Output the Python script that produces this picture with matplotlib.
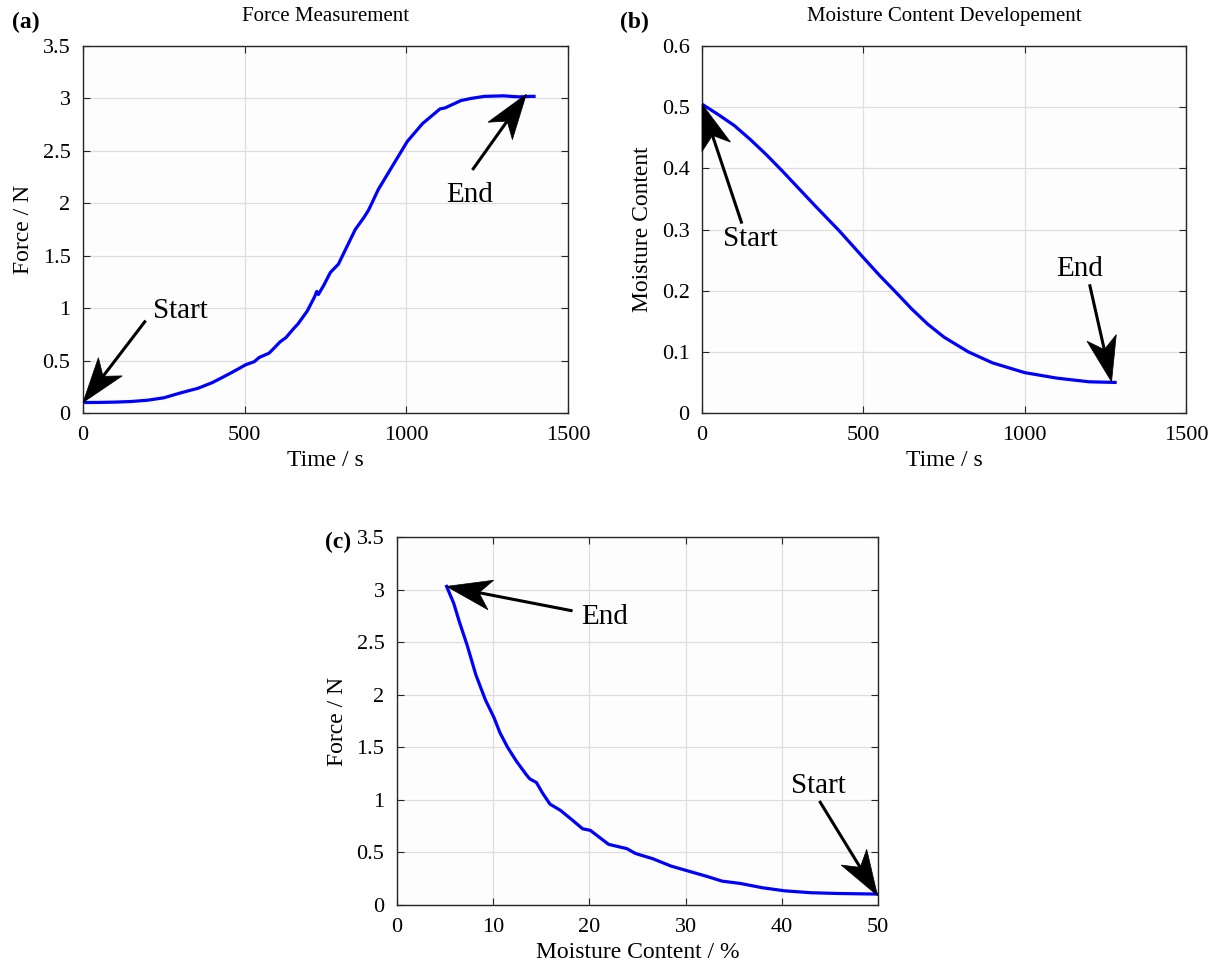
import numpy as np
import matplotlib
matplotlib.use("Agg")
import matplotlib.pyplot as plt
from matplotlib.patches import Polygon
from matplotlib.lines import Line2D

plt.rcParams['font.family'] = ['Liberation Serif', 'DejaVu Serif']

#%% Données

# (a) force vs temps
time_a = [0, 50, 100, 150, 200, 250, 300, 330, 355, 400, 444, 480, 503, 530,
          545, 575, 585, 610, 628, 650, 665, 693, 715, 723, 728, 745, 765,
          790, 812, 842, 870, 884, 913, 950, 1003, 1050, 1104, 1120, 1169,
          1200, 1241, 1300, 1324, 1350, 1383, 1395]
force_a = [0.10, 0.101, 0.104, 0.11, 0.122, 0.145, 0.19, 0.215, 0.235, 0.29,
           0.36, 0.42, 0.46, 0.49, 0.53, 0.57, 0.60, 0.68, 0.72, 0.80, 0.85,
           0.97, 1.10, 1.16, 1.13, 1.22, 1.34, 1.42, 1.56, 1.75, 1.87, 1.94,
           2.13, 2.32, 2.59, 2.76, 2.90, 2.91, 2.98, 3.00, 3.02, 3.025, 3.02,
           3.015, 3.02, 3.02]

# (b) teneur en eau vs temps
time_b = [0, 50, 100, 150, 200, 250, 300, 350, 425, 500, 550, 596, 650, 700,
          750, 825, 900, 1000, 1100, 1200, 1280]
moist_b = [0.505, 0.488, 0.470, 0.447, 0.422, 0.395, 0.367, 0.339, 0.298,
           0.254, 0.225, 0.200, 0.170, 0.145, 0.124, 0.100, 0.082, 0.066,
           0.057, 0.051, 0.050]

# (c) force vs teneur en eau (%)
moist_c = [5.16, 5.9, 6.5, 7.3, 8.2, 9.2, 10.1, 10.7, 11.5, 12.4, 13.4, 13.8,
           14.5, 15.1, 15.9, 17.0, 18.2, 19.3, 20.1, 22.0, 23.9, 24.8, 26.6,
           28.5, 30.4, 32.3, 33.8, 35.7, 38.0, 40.3, 43.0, 45.7, 49.9]
force_c = [3.03, 2.87, 2.69, 2.47, 2.19, 1.95, 1.78, 1.64, 1.50, 1.37, 1.245,
           1.20, 1.165, 1.07, 0.96, 0.90, 0.81, 0.725, 0.71, 0.577, 0.536, 0.49,
           0.44, 0.37, 0.32, 0.27, 0.227, 0.205, 0.164, 0.135, 0.117, 0.11, 0.104]

#%% Mise en forme

fig = plt.figure(figsize=(12.15, 9.67), dpi=100)

ax_a = fig.add_axes([0.0683, 0.5729, 0.3992, 0.3795])
ax_b = fig.add_axes([0.5778, 0.5729, 0.3984, 0.3795])
ax_c = fig.add_axes([0.3267, 0.0641, 0.3959, 0.3806])


def style_axes(ax, xlim, ylim, xticks, yticks):
    ax.set_xlim(xlim); ax.set_ylim(ylim)
    ax.set_xticks(xticks); ax.set_yticks(yticks)
    ax.set_xticklabels([f"{v:g}" for v in xticks])
    ax.set_yticklabels([f"{v:g}" for v in yticks])
    ax.grid(True, color='#dedede', lw=0.9)
    ax.set_axisbelow(True)
    ax.tick_params(direction='in', top=True, right=True, length=5,
                   width=0.8, labelsize=16, pad=9, colors='#262626',
                   labelcolor='black')
    for sp in ax.spines.values():
        sp.set_color('#262626'); sp.set_linewidth(1.0)
    ax.set_facecolor('#fdfdfd')


def arrow(ax, tip, tail, label, text_xy, L=45, W=15, back=33):
    """flèche style MATLAB (tête pleine à encoche), calculée en pixels"""
    to_fig = fig.transFigure.inverted()
    p = ax.transData.transform(tip)
    q = ax.transData.transform(tail)
    u = (p - q) / np.hypot(*(p - q))
    n = np.array([-u[1], u[0]])
    head = [p, p - L * u + W * n, p - back * u, p - L * u - W * n]
    fig.patches.append(Polygon(to_fig.transform(head), closed=True,
                               transform=fig.transFigure, fc='black',
                               ec='black', lw=0.5, figure=fig))
    shaft = to_fig.transform([q, p - back * u])
    fig.lines.append(Line2D(shaft[:, 0], shaft[:, 1], color='black', lw=2.2,
                            transform=fig.transFigure, figure=fig))
    ax.text(text_xy[0], text_xy[1], label, fontsize=21, va='center', ha='left')


# (a)
ax_a.plot(time_a, force_a, color='blue', lw=2.3)
style_axes(ax_a, (0, 1500), (0, 3.5), [0, 500, 1000, 1500],
           [0, 0.5, 1, 1.5, 2, 2.5, 3, 3.5])
ax_a.set_xlabel("Time / s", fontsize=17, labelpad=4)
ax_a.set_ylabel("Force / N", fontsize=17, labelpad=6)
ax_a.set_title("Force Measurement", fontsize=15, pad=18)
arrow(ax_a, (0, 0.1), (191, 0.87), "Start", (215, 0.975))
arrow(ax_a, (1371, 3.04), (1207, 2.33), "End", (1122, 2.08))

# (b)
ax_b.plot(time_b, moist_b, color='blue', lw=2.3)
style_axes(ax_b, (0, 1500), (0, 0.6), [0, 500, 1000, 1500],
           [0, 0.1, 0.2, 0.3, 0.4, 0.5, 0.6])
ax_b.set_xlabel("Time / s", fontsize=17, labelpad=4)
ax_b.set_ylabel("Moisture Content", fontsize=17, labelpad=6)
ax_b.set_title("Moisture Content Developement", fontsize=15, pad=18)
arrow(ax_b, (0, 0.505), (122, 0.312), "Start", (66, 0.285))
arrow(ax_b, (1269, 0.051), (1202, 0.208), "End", (1098, 0.235))

# (c)
ax_c.plot(moist_c, force_c, color='blue', lw=2.3)
style_axes(ax_c, (0, 50), (0, 3.5), [0, 10, 20, 30, 40, 50],
           [0, 0.5, 1, 1.5, 2, 2.5, 3, 3.5])
ax_c.set_xlabel("Moisture Content / %", fontsize=17, labelpad=4)
ax_c.set_ylabel("Force / N", fontsize=17, labelpad=6)
arrow(ax_c, (5.16, 3.03), (18.1, 2.80), "End", (19.1, 2.74))
arrow(ax_c, (49.95, 0.09), (44.0, 0.977), "Start", (41.0, 1.135))

# étiquettes des panneaux
fig.text(12 / 1215, 1 - 22 / 967, "(a)", fontsize=17, fontweight='bold', va='center')
fig.text(620 / 1215, 1 - 22 / 967, "(b)", fontsize=17, fontweight='bold', va='center')
fig.text(325 / 1215, 1 - 542 / 967, "(c)", fontsize=17, fontweight='bold', va='center')

fig.savefig("out.png", dpi=100)
